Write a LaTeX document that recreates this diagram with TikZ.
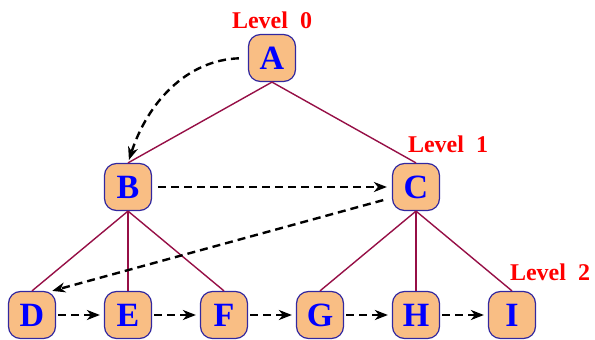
\documentclass[tikz,border=0pt]{standalone}
\usepackage{fontspec}
\setmainfont{Liberation Serif}
\usetikzlibrary{arrows.meta}
\definecolor{nodefill}{RGB}{249,190,132}
\definecolor{nodeline}{RGB}{50,40,160}
\definecolor{edgecol}{RGB}{150,15,70}
\begin{document}
\begin{tikzpicture}[x=1pt,y=1pt,
  vert/.style={draw=nodeline, line width=1.2pt, fill=nodefill, rounded corners=12pt,
    minimum width=47pt, minimum height=47pt, inner sep=0pt,
    font=\fontsize{34}{34}\selectfont\bfseries, text=blue},
  lvl/.style={font=\fontsize{24}{24}\selectfont\bfseries, text=red},
  edge/.style={draw=edgecol, line width=1.4pt},
  trav/.style={draw=black, line width=2.4pt, dash pattern=on 8pt off 5pt,
    -{Stealth[length=13pt,width=10pt,inset=4pt]}}]
\useasboundingbox (0,0) rectangle (595,340);
\node[vert] (A) at (272,282) {A};
\node[vert] (B) at (128,153) {B};
\node[vert] (C) at (416,153) {C};
\node[vert] (D) at (32,25) {D};
\node[vert] (E) at (128,25) {E};
\node[vert] (F) at (224,25) {F};
\node[vert] (G) at (320,25) {G};
\node[vert] (H) at (416,25) {H};
\node[vert] (I) at (512,25) {I};
\node[lvl] (L0) at (272,320) {Level~~0};
\node[lvl] (L1) at (448,196) {Level~~1};
\node[lvl] (L2) at (550,68) {Level~~2};
\draw[edge] (A.south) -- (B.north);
\draw[edge] (A.south) -- (C.north);
\draw[edge] (B.south) -- (D.north);
\draw[edge] (B.south) -- (E.north);
\draw[edge] (B.south) -- (F.north);
\draw[edge] (C.south) -- (G.north);
\draw[edge] (C.south) -- (H.north);
\draw[edge] (C.south) -- (I.north);
\draw[trav, shorten <=9pt, shorten >=3pt] (A.west) to[out=182, in=72] (B.north);
\draw[trav, shorten <=6pt, shorten >=5pt] (B.east) -- (C.west);
\draw[trav, shorten <=9pt] (C.204) -- (D.50);
\draw[trav, shorten <=2pt, shorten >=4pt] (D.east) -- (E.west);
\draw[trav, shorten <=2pt, shorten >=4pt] (E.east) -- (F.west);
\draw[trav, shorten <=2pt, shorten >=4pt] (F.east) -- (G.west);
\draw[trav, shorten <=2pt, shorten >=4pt] (G.east) -- (H.west);
\draw[trav, shorten <=2pt, shorten >=4pt] (H.east) -- (I.west);
\end{tikzpicture}
\end{document}
